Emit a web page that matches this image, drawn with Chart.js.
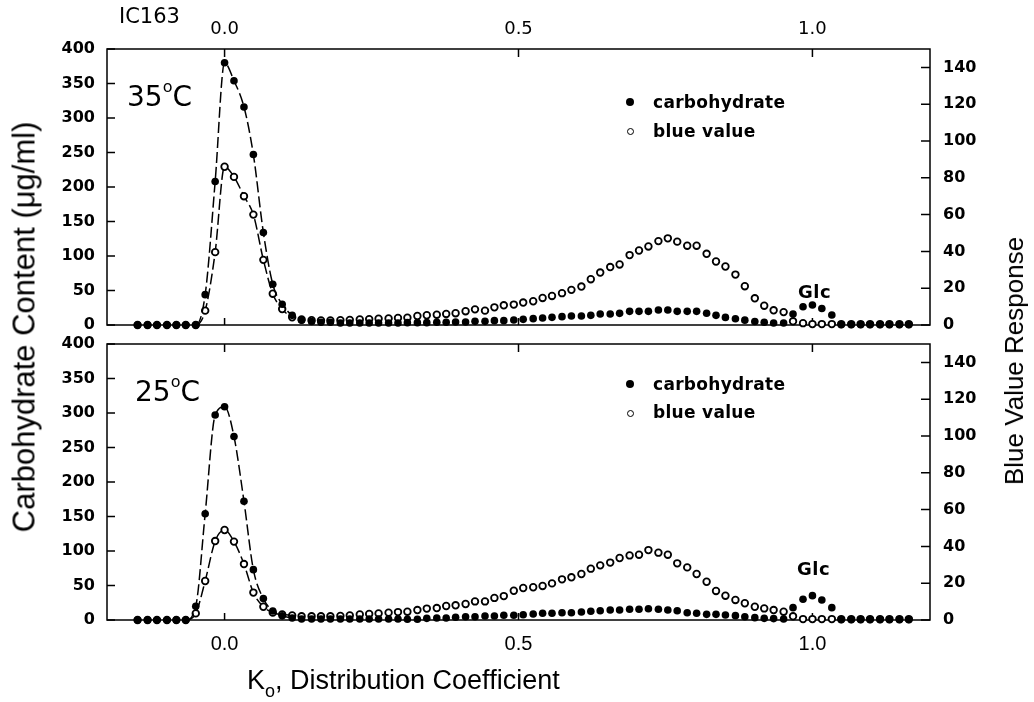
<!DOCTYPE html>
<html>
<head>
<meta charset="utf-8">
<script src="https://cdn.jsdelivr.net/npm/chart.js@4.4.0/dist/chart.umd.min.js"></script>
<style>
body { margin: 0; background: #fff; }
#wrap { position: relative; width: 1034px; height: 702px; overflow: hidden; color: #000; font-family: "DejaVu Sans"; }
canvas { position: absolute; left: 0; top: 0; }
.t { position: absolute; white-space: nowrap; line-height: 1; }
.helv { font-family: "Liberation Sans"; }
.b { font-weight: bold; }
.vert { transform: translate(-50%, -50%) rotate(-90deg); }
.dot { position: absolute; border-radius: 50%; box-sizing: border-box; }
</style>
</head>
<body>
<div id="wrap">
  <canvas id="top" width="1034" height="702"></canvas>
  <canvas id="bottom" width="1034" height="702"></canvas>
</div>
<script>
// distribution coefficient of each fraction
const kValues = [-0.148, -0.131, -0.115, -0.098, -0.082, -0.066, -0.049, -0.033, -0.016, 0.000,
  0.016, 0.033, 0.049, 0.066, 0.082, 0.098, 0.115, 0.131, 0.148, 0.164,
  0.180, 0.197, 0.213, 0.230, 0.246, 0.262, 0.279, 0.295, 0.311, 0.328,
  0.344, 0.361, 0.377, 0.393, 0.410, 0.426, 0.443, 0.459, 0.475, 0.492,
  0.508, 0.525, 0.541, 0.557, 0.574, 0.590, 0.607, 0.623, 0.639, 0.656,
  0.672, 0.689, 0.705, 0.721, 0.738, 0.754, 0.770, 0.787, 0.803, 0.820,
  0.836, 0.852, 0.869, 0.885, 0.902, 0.918, 0.934, 0.951, 0.967, 0.984,
  1.000, 1.016, 1.033, 1.049, 1.066, 1.082, 1.098, 1.115, 1.131, 1.148, 1.164];

// 35 C run
const carb35 = [0, 0, 0, 0, 0, 0, 0,
  44, 208, 380, 354, 316, 247, 134, 59, 30, 14,
  7, 5, 4, 4, 3, 3, 3, 3, 3, 3, 3,
  3.4, 3.4, 3.4, 3.9, 3.9, 4.3, 4.3, 5.3, 5.3, 6.3,
  6.3, 7.2, 8.2, 9.2, 10.1, 11.1, 12.1, 13, 13, 14,
  15.9, 15.9, 16.9, 19.8, 19.8, 19.8, 21.7, 21.7, 19.8, 19.8,
  19.8, 17, 14, 11, 9, 7, 5, 4, 3, 3,
  16, 26.5, 29, 24, 14.5,
  0.5, 0.5, 0.5, 0.5, 0.5, 0.5, 0.5, 0.5];
const blue35 = [0, 0, 0, 0, 0, 0, 0,
  7.8, 39.6, 86, 80.5, 70, 60, 35.4, 17, 8.7, 4.2,
  3, 2.6, 2.5, 2.5, 2.6, 2.8, 3, 3.2, 3.4, 3.6, 3.8,
  4.0, 4.9, 5.3, 5.6, 6.0, 6.4, 7.5, 8.5, 7.8, 9.6,
  10.7, 11.1, 12.2, 12.9, 14.7, 15.8, 17.3, 19.1, 20.9, 24.9,
  28.5, 31.5, 32.9, 38.0, 40.5, 42.7, 45.6, 47.1, 45.3, 43.1,
  43.1, 38.7, 34.5, 31.8, 27.4, 21.1, 14.5, 10.5, 8, 7,
  2, 1, 0.5, 0.5, 0.5,
  0.5, 0.5, 0.5, 0.5, 0.5, 0.5, 0.5, 0.5];

// 25 C run
const carb25 = [0, 0, 0, 0, 0, 0,
  20, 154, 297, 309, 266, 172, 73, 31, 13, 6, 3,
  1.5, 1.5, 1.5, 1.5, 1.5, 1.5, 1.5, 1.5, 1.5, 1.5, 1.5,
  1, 1, 2.4, 2.9, 2.9, 3.9, 4.8, 4.8, 5.8, 5.8,
  6.8, 6.8, 7.7, 8.7, 9.7, 9.7, 10.6, 10.6, 11.6, 12.6,
  13.5, 14.5, 14.5, 15.5, 15.5, 16.4, 15.5, 14.5, 13.5, 10.6,
  9.7, 8.2, 8.2, 7.2, 6.3, 4.8, 3.4, 2.4, 2, 1.5,
  17.9, 30, 35.3, 29, 17.9,
  0.5, 0.5, 0.5, 0.5, 0.5, 0.5, 0.5, 0.5];
const blue25 = [0, 0, 0, 0, 0, 0,
  3.6, 21.2, 42.9, 48.9, 42.6, 30.4, 14.9, 7.2, 4, 3, 2.5,
  2, 2, 2, 2, 2.2, 2.5, 3, 3.3, 3.6, 4, 4.3,
  4.5, 5.4, 6.2, 6.5, 7.6, 8.0, 8.7, 10.1, 10.1, 12.0,
  13.0, 15.9, 17.4, 17.8, 18.5, 19.9, 22.1, 23.2, 25.0, 27.9,
  29.7, 31.2, 33.7, 35.1, 35.5, 38.0, 36.6, 35.5, 30.8, 28.6,
  25.0, 20.8, 15.8, 13.2, 10.9, 9.1, 7.2, 6.3, 5.4, 4.5,
  2, 0.5, 0.5, 0.5, 0.5,
  0.5, 0.5, 0.5, 0.5, 0.5, 0.5, 0.5, 0.5];

// fractions joined by the drawn curve (first, last index)
const fit35 = [6, 16];
const fit25 = [5, 16];

const xTicks = [0, 0.5, 1.0];
const carbTicks = [0, 50, 100, 150, 200, 250, 300, 350, 400];
const blueTicks = [0, 20, 40, 60, 80, 100, 120, 140];

const tickFont = { family: 'DejaVu Sans', size: 16, weight: 'bold' };
const topXFont = { family: 'DejaVu Sans', size: 18 };
const bottomXFont = { family: 'Liberation Sans', size: 20 };

const framePlugin = {
  id: 'frame',
  beforeDatasetsDraw(chart) {
    const { ctx, chartArea: a, scales } = chart;
    ctx.save();
    ctx.strokeStyle = '#000';
    ctx.lineWidth = 1.5;
    ctx.strokeRect(a.left, a.top, a.right - a.left, a.bottom - a.top);
    ctx.beginPath();
    scales.x.ticks.forEach(t => {
      const px = scales.x.getPixelForValue(t.value);
      ctx.moveTo(px, a.top); ctx.lineTo(px, a.top + 8);
      ctx.moveTo(px, a.bottom); ctx.lineTo(px, a.bottom - 7);
    });
    scales.yL.ticks.forEach(t => {
      const py = scales.yL.getPixelForValue(t.value);
      ctx.moveTo(a.left, py); ctx.lineTo(a.left + 8, py);
    });
    scales.yR.ticks.forEach(t => {
      const py = scales.yR.getPixelForValue(t.value);
      ctx.moveTo(a.right, py); ctx.lineTo(a.right - 9, py);
    });
    ctx.stroke();
    ctx.restore();
  }
};

function panel(id, carb, blue, fit, isTop) {
  const pts = arr => kValues.map((k, i) => ({ x: k, y: arr[i] }));
  const inFit = c => (c.p0DataIndex >= fit[0] && c.p1DataIndex <= fit[1]) ? '#000' : 'rgba(0,0,0,0)';
  const noGrid = { display: false, drawTicks: false };
  return new Chart(document.getElementById(id), {
    type: 'scatter',
    data: {
      datasets: [{
        label: 'carbohydrate',
        data: pts(carb),
        yAxisID: 'yL',
        showLine: true,
        clip: false,
        borderColor: '#000',
        borderWidth: 1.5,
        borderDash: [11, 4],
        cubicInterpolationMode: 'monotone',
        segment: { borderColor: inFit },
        pointRadius: 3.8,
        pointBackgroundColor: '#000',
        pointBorderColor: '#000',
        pointBorderWidth: 0
      }, {
        label: 'blue value',
        data: pts(blue),
        yAxisID: 'yR',
        showLine: true,
        clip: false,
        borderColor: '#000',
        borderWidth: 1.5,
        borderDash: [11, 4],
        cubicInterpolationMode: 'monotone',
        segment: { borderColor: inFit },
        pointRadius: 3.3,
        pointBackgroundColor: '#fff',
        pointBorderColor: '#000',
        pointBorderWidth: 1.8
      }]
    },
    options: {
      responsive: false,
      animation: false,
      events: [],
      layout: { padding: isTop ? { top: 0, bottom: 377, left: 0, right: 0 } : { top: 344, bottom: 0, left: 0, right: 0 } },
      plugins: { legend: { display: false }, tooltip: { enabled: false } },
      scales: {
        x: {
          type: 'linear',
          position: isTop ? 'top' : 'bottom',
          min: -0.2, max: 1.2,
          afterBuildTicks: s => { s.ticks = xTicks.map(v => ({ value: v })); },
          afterFit: s => { s.height = isTop ? 49 : 82; },
          grid: noGrid, border: { display: false },
          ticks: { padding: isTop ? 9 : 12, font: isTop ? topXFont : bottomXFont, color: '#000', maxRotation: 0, callback: v => v.toFixed(1) }
        },
        yL: {
          position: 'left',
          min: 0, max: 400,
          afterBuildTicks: s => { s.ticks = carbTicks.map(v => ({ value: v })); },
          afterFit: s => { s.width = 107; },
          grid: noGrid, border: { display: false },
          ticks: { padding: 12, font: tickFont, color: '#000' }
        },
        yR: {
          position: 'right',
          min: 0, max: 150,
          afterBuildTicks: s => { s.ticks = blueTicks.map(v => ({ value: v })); },
          afterFit: s => { s.width = 104; },
          grid: noGrid, border: { display: false },
          ticks: { padding: 13, font: tickFont, color: '#000' }
        }
      }
    },
    plugins: [framePlugin]
  });
}

panel('top', carb35, blue35, fit35, true);
panel('bottom', carb25, blue25, fit25, false);

// text placed by its baseline
const wrap = document.getElementById('wrap');
function label(html, x, base, size, cls, extra) {
  const d = document.createElement('div');
  d.className = 't ' + (cls || '');
  d.innerHTML = html;
  d.style.left = x + 'px';
  d.style.top = (base - 0.846 * size) + 'px';
  d.style.fontSize = size + 'px';
  if (extra) Object.assign(d.style, extra);
  wrap.appendChild(d);
  return d;
}
function marker(cx, cy, filled) {
  const d = document.createElement('div');
  d.className = 'dot';
  const r = filled ? 4 : 3.5;
  Object.assign(d.style, {
    left: (cx - r) + 'px', top: (cy - r) + 'px', width: 2 * r + 'px', height: 2 * r + 'px',
    background: filled ? '#000' : '#fff', border: filled ? 'none' : '1.8px solid #000'
  });
  wrap.appendChild(d);
}

label('IC163', 119, 24, 21);
const deg = '<span style="font-size:16px;position:relative;top:-14px">o</span>';
label('35' + deg + 'C', 127, 107, 28);
label('25' + deg + 'C', 135, 402, 28);

const legStyle = { letterSpacing: '0.3px' };
label('carbohydrate', 653, 108, 17, 'b', legStyle);
label('blue value', 653, 137, 17, 'b', legStyle);
marker(630, 102, true); marker(630, 131, false);
label('carbohydrate', 653, 390, 17, 'b', legStyle);
label('blue value', 653, 418, 17, 'b', legStyle);
marker(630, 384, true); marker(630, 413, false);

label('Glc', 798, 298, 18, 'b', { letterSpacing: '0.5px' });
label('Glc', 797, 575, 18, 'b', { letterSpacing: '0.5px' });

label('K<span style="font-size:18px;position:relative;top:8px">o</span>, Distribution Coefficient', 247, 690, 27, 'helv');

const yt = label('Carbohydrate Content (&mu;g/ml)', 24, 0, 31, 'helv vert');
yt.style.top = '327px';
const rt = label('Blue Value Response', 1014, 0, 26, 'helv vert');
rt.style.top = '361px';
</script>
</body>
</html>
